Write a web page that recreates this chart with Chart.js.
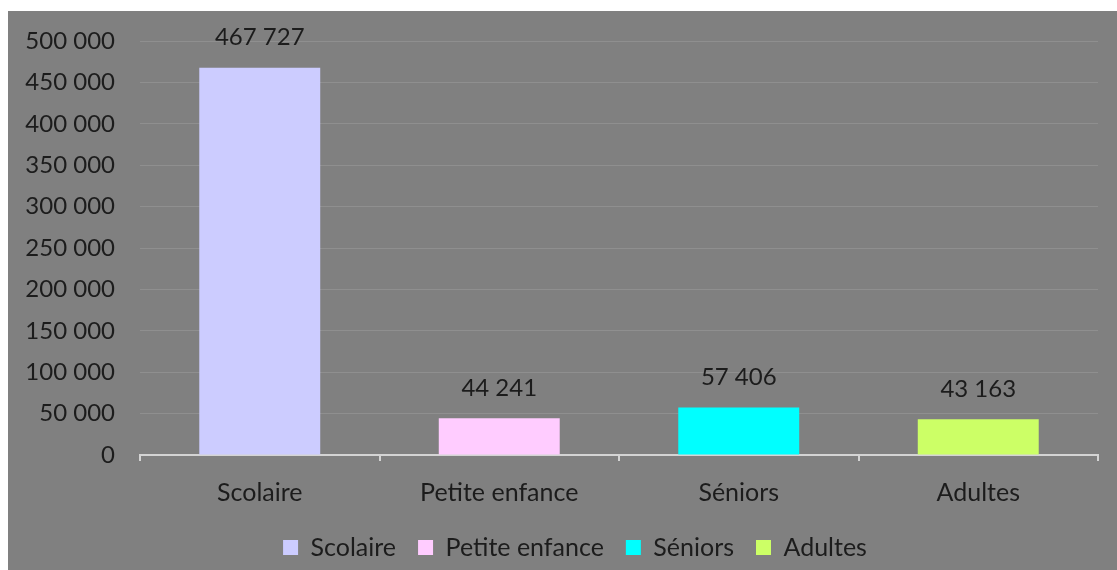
<!DOCTYPE html>
<html>
<head>
<meta charset="utf-8">
<script src="https://cdn.jsdelivr.net/npm/chart.js@4/dist/chart.umd.min.js"></script>
<style>
  html, body { margin: 0; padding: 0; background: #ffffff; }
  #wrap { width: 1117px; height: 570px; position: relative; }
</style>
</head>
<body>
<div id="wrap"><canvas id="c" width="1117" height="570"></canvas></div>
<script>
// Public categories and counts
const categories = ['Scolaire', 'Petite enfance', 'Séniors', 'Adultes'];
const counts = [467727, 44241, 57406, 43163];
const barColors = ['#ccccff', '#ffccff', '#00ffff', '#ccff66'];
const yMax = 500000;
const yStep = 50000;

const FONT = 'Lato, "Open Sans", sans-serif';
const TEXT = '#1c1c1c';

// Numbers written with a space as thousands separator
function fmt(v) {
  return String(Math.round(v)).replace(/\B(?=(\d{3})+(?!\d))/g, ' ');
}

// Grey panel behind everything
const panel = {
  id: 'panel',
  beforeDraw(chart) {
    const ctx = chart.ctx;
    ctx.save();
    ctx.fillStyle = '#ffffff';
    ctx.fillRect(0, 0, chart.width, chart.height);
    ctx.fillStyle = '#808080';
    ctx.fillRect(8, 11, chart.width - 8, chart.height - 11);
    ctx.restore();
  }
};

// Nudge the legend a little to the right of the canvas centre
const legendShift = {
  id: 'legendShift',
  afterLayout(chart) {
    if (chart.legend) {
      chart.legend.left += 16;
      chart.legend.right += 16;
    }
  }
};

// Value written above each bar
const valueLabels = {
  id: 'valueLabels',
  afterDatasetsDraw(chart) {
    const ctx = chart.ctx;
    const meta = chart.getDatasetMeta(0);
    ctx.save();
    ctx.font = '24px ' + FONT;
    ctx.fillStyle = TEXT;
    ctx.textAlign = 'center';
    ctx.textBaseline = 'middle';
    meta.data.forEach((bar, i) => {
      ctx.fillText(fmt(counts[i]), bar.x, bar.y - 30);
    });
    ctx.restore();
  }
};

new Chart(document.getElementById('c'), {
  type: 'bar',
  data: {
    labels: categories,
    datasets: [{
      data: counts,
      backgroundColor: barColors,
      borderWidth: 0,
      barPercentage: 1,
      categoryPercentage: 0.505
    }]
  },
  options: {
    responsive: false,
    animation: false,
    devicePixelRatio: 1,
    layout: { padding: { left: 20, right: 19, top: 41, bottom: 0 } },
    scales: {
      y: {
        min: 0,
        max: yMax,
        afterFit(scale) { scale.width = 120; },
        ticks: {
          stepSize: yStep,
          padding: 25,
          color: TEXT,
          font: { family: FONT, size: 24 },
          callback: (v) => fmt(v)
        },
        grid: { color: '#8f8f8f', lineWidth: 1, drawTicks: false },
        border: { display: false }
      },
      x: {
        afterFit(scale) { scale.height = 58; },
        ticks: {
          padding: 17,
          color: TEXT,
          font: { family: FONT, size: 25 }
        },
        grid: {
          offset: true,
          drawOnChartArea: false,
          drawTicks: true,
          tickLength: 6,
          color: '#d4d4d4',
          lineWidth: 2
        },
        border: { display: true, color: '#d4d4d4', width: 2 }
      }
    },
    plugins: {
      tooltip: { enabled: false },
      legend: {
        position: 'bottom',
        labels: {
          boxWidth: 15,
          boxHeight: 15,
          padding: 22,
          color: TEXT,
          font: { family: FONT, size: 25 },
          generateLabels: () => categories.map((name, i) => ({
            text: name,
            fillStyle: barColors[i],
            strokeStyle: barColors[i],
            lineWidth: 0,
            fontColor: TEXT,
            index: i
          }))
        }
      }
    }
  },
  plugins: [panel, legendShift, valueLabels]
});
</script>
</body>
</html>
